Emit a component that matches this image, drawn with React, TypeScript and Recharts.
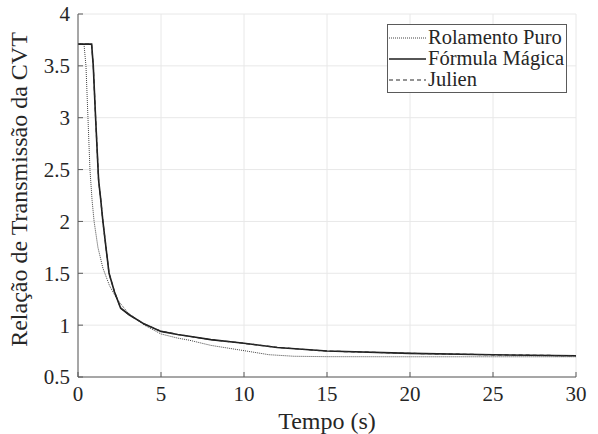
import React from 'react';
import {
  LineChart,
  Line,
  XAxis,
  YAxis,
  CartesianGrid,
  Legend,
} from 'recharts';

// ---- data ----
const xTicks = [0, 5, 10, 15, 20, 25, 30];
const yTicks = [0.5, 1, 1.5, 2, 2.5, 3, 3.5, 4];

const tRolamento = [0, 0.36, 0.48, 0.6, 0.72, 0.85, 0.97, 1.2, 1.5, 1.9, 2.35, 3, 4, 5, 6, 6.7, 8, 10, 11.5, 13, 15, 20, 25, 30];
const vRolamento = [3.71, 3.71, 3.5, 3.0, 2.5, 2.2, 2.0, 1.75, 1.55, 1.38, 1.25, 1.12, 1.0, 0.915, 0.875, 0.855, 0.805, 0.754, 0.715, 0.7, 0.696, 0.695, 0.695, 0.695];

const tFormula = [0, 0.82, 0.92, 1.06, 1.24, 1.37, 1.5, 1.87, 2.2, 2.57, 3.1, 4, 5, 6, 7, 8, 10, 12, 15, 20, 25, 30];
const vFormula = [3.71, 3.71, 3.5, 3.0, 2.4, 2.21, 2.0, 1.5, 1.32, 1.163, 1.098, 1.01, 0.94, 0.91, 0.885, 0.86, 0.825, 0.785, 0.75, 0.728, 0.714, 0.705];

const tJulien = [0, 0.82, 0.92, 1.06, 1.24, 1.37, 1.5, 1.87, 2.2, 2.57, 3.1, 4, 5, 6, 7, 8, 10, 12, 15, 20, 25, 30];
const vJulien = [3.71, 3.71, 3.5, 3.0, 2.4, 2.21, 2.0, 1.5, 1.32, 1.165, 1.098, 1.01, 0.942, 0.91, 0.885, 0.86, 0.825, 0.785, 0.75, 0.728, 0.714, 0.705];

const seriesNames = ['Rolamento Puro', 'Fórmula Mágica', 'Julien'];

const zip = (ts: number[], vs: number[]) => ts.map((t, i) => ({ t, v: vs[i] }));

const rolamento = zip(tRolamento, vRolamento);
const formula = zip(tFormula, vFormula);
const julien = zip(tJulien, vJulien);

const FONT = "'Liberation Serif'";
const TEXT = '#262626';
const AXIS = '#5a5a5a';

const series = [
  { name: seriesNames[0], data: rolamento, stroke: '#444', width: 1, dash: '1 1' },
  { name: seriesNames[1], data: formula, stroke: '#1e1e1e', width: 1.6, dash: undefined },
  { name: seriesNames[2], data: julien, stroke: '#2a2a2a', width: 1.2, dash: '4 3' },
];

const LegendBox = () => (
  <div
    style={{
      border: `1px solid ${AXIS}`,
      background: '#fff',
      padding: '2px 2px 2px 1px',
      fontFamily: FONT,
      fontSize: 20.5,
      color: TEXT,
      lineHeight: '21px',
      whiteSpace: 'nowrap',
    }}
  >
    {series.map((s) => (
      <div key={s.name} style={{ display: 'flex', alignItems: 'center', height: 21 }}>
        <svg width={37} height={10} style={{ marginRight: 2 }}>
          <line
            x1={0}
            y1={5}
            x2={37}
            y2={5}
            stroke={s.stroke}
            strokeWidth={s.width}
            strokeDasharray={s.dash}
          />
        </svg>
        <span>{s.name}</span>
      </div>
    ))}
  </div>
);

export default function App() {
  return (
    <div style={{ position: 'absolute', left: 0, top: 0, width: 598, height: 434, background: '#fff', fontFamily: FONT }}>
      <LineChart
        width={598}
        height={434}
        margin={{ top: 14, right: 22, left: 0, bottom: 0 }}
      >
        <CartesianGrid stroke="#e8e8e8" strokeWidth={1} />
        <XAxis
          dataKey="t"
          type="number"
          domain={[0, 30]}
          ticks={xTicks}
          allowDataOverflow
          height={57}
          tickSize={-5}
          tickMargin={14}
          stroke={AXIS}
          tick={{ fill: TEXT, fontFamily: 'Liberation Serif', fontSize: 21 }}
          label={{
            value: 'Tempo (s)',
            position: 'insideBottom',
            offset: 5,
            fill: TEXT,
            fontFamily: 'Liberation Serif',
            fontSize: 24,
          }}
        />
        <XAxis
          xAxisId="top"
          orientation="top"
          type="number"
          domain={[0, 30]}
          ticks={xTicks}
          height={0}
          tick={false}
          tickSize={-5}
          stroke={AXIS}
        />
        <YAxis
          type="number"
          domain={[0.5, 4]}
          ticks={yTicks}
          allowDataOverflow
          width={78}
          tickSize={-5}
          tickMargin={13}
          stroke={AXIS}
          tick={{ fill: TEXT, fontFamily: 'Liberation Serif', fontSize: 21 }}
          label={{
            value: 'Relação de Transmissão da CVT',
            angle: -90,
            position: 'insideLeft',
            offset: 18,
            dy: -6,
            fill: TEXT,
            fontFamily: 'Liberation Serif',
            fontSize: 24,
            style: { textAnchor: 'middle' },
          }}
        />
        <YAxis
          yAxisId="right"
          orientation="right"
          type="number"
          domain={[0.5, 4]}
          ticks={yTicks}
          width={0}
          tick={false}
          tickSize={-5}
          stroke={AXIS}
        />
        <Legend
          layout="horizontal"
          verticalAlign="middle"
          align="center"
          content={() => <LegendBox />}
          wrapperStyle={{ left: 387, top: 24, width: 'auto' }}
        />
        {series.map((s) => (
          <Line
            key={s.name}
            name={s.name}
            data={s.data}
            dataKey="v"
            type="linear"
            stroke={s.stroke}
            strokeWidth={s.width}
            strokeDasharray={s.dash}
            dot={false}
            activeDot={false}
            isAnimationActive={false}
          />
        ))}
      </LineChart>
    </div>
  );
}
